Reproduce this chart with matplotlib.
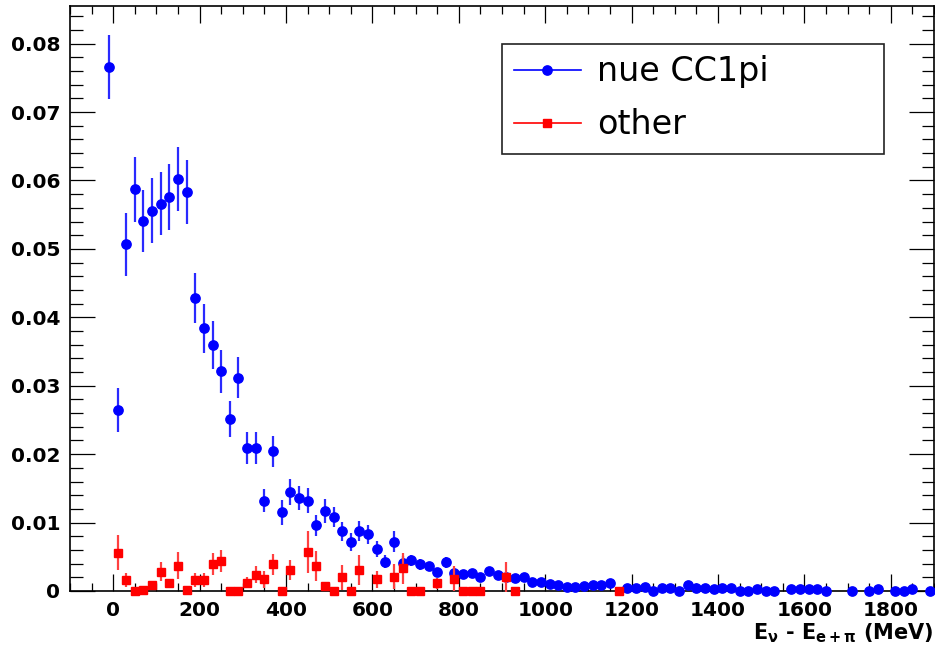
import matplotlib
matplotlib.use("Agg")
import matplotlib.pyplot as plt
from matplotlib.lines import Line2D
from matplotlib.ticker import MultipleLocator, FuncFormatter

plt.rcParams['font.family'] = ['DejaVu Sans']
plt.rcParams['mathtext.fontset'] = 'custom'
plt.rcParams['mathtext.rm'] = 'DejaVu Sans:bold'
plt.rcParams['mathtext.it'] = 'DejaVu Sans:bold'
plt.rcParams['mathtext.bf'] = 'DejaVu Sans:bold'

# ---- data: nue CC1pi (blue) ----
blue_x = [-10, 10, 30, 50, 70, 90, 110, 130, 150, 170,
          190, 210, 230, 250, 270, 290, 310, 330, 350, 370,
          390, 410, 430, 450, 470, 490, 510, 530, 550, 570,
          590, 610, 630, 650, 670, 690, 710, 730, 750, 770,
          790, 810, 830, 850, 870, 890, 910, 930, 950, 970,
          990, 1010, 1030, 1050, 1070, 1090, 1110, 1130, 1150, 1190,
          1210, 1230, 1250, 1270, 1290, 1310, 1330, 1350, 1370, 1390,
          1410, 1430, 1450, 1470, 1490, 1510, 1530, 1570, 1590, 1610,
          1630, 1650, 1710, 1750, 1770, 1810, 1830, 1850, 1890]
blue_y = [0.0766, 0.0265, 0.0507, 0.0587, 0.0541, 0.0556, 0.0566, 0.0576, 0.0602, 0.0583,
          0.0428, 0.0384, 0.0359, 0.0321, 0.0251, 0.0312, 0.0209, 0.0209, 0.0132, 0.0204,
          0.0115, 0.0144, 0.0136, 0.0132, 0.0096, 0.0117, 0.0108, 0.0087, 0.0072, 0.0088,
          0.0083, 0.0061, 0.0043, 0.0072, 0.0041, 0.0045, 0.0039, 0.0037, 0.0028, 0.0042,
          0.0027, 0.0025, 0.0027, 0.0020, 0.0029, 0.0024, 0.0021, 0.0019, 0.0020, 0.0013,
          0.0013, 0.0010, 0.0009, 0.0006, 0.0006, 0.0007, 0.0009, 0.0009, 0.0012, 0.0005,
          0.0004, 0.0006, 0.0, 0.0004, 0.0005, 0.0, 0.0009, 0.0005, 0.0005, 0.00025,
          0.0005, 0.0004, 0.0, 0.0, 0.00025, 0.0, 0.0, 0.00025, 0.00025, 0.00025,
          0.00025, 0.0, 0.0, 0.0, 0.00025, 0.0, 0.0, 0.00025, 0.0]
blue_err = [0.0047, 0.0032, 0.0046, 0.0048, 0.0045, 0.0047, 0.0046, 0.0048, 0.0047, 0.0047,
            0.0037, 0.0036, 0.0035, 0.0031, 0.0026, 0.0030, 0.0023, 0.0023, 0.0017, 0.0023,
            0.0018, 0.0019, 0.0017, 0.0018, 0.0015, 0.0017, 0.0015, 0.0014, 0.0013, 0.0015,
            0.0014, 0.0012, 0.0010, 0.0015, 0.0010, 0.0008, 0.0008, 0.0006, 0.0006, 0.0008,
            0.0005, 0.0005, 0.0005, 0.0004, 0.0005, 0.0004, 0.0004, 0.0004, 0.0004, 0.0003,
            0.0003, 0.0003, 0.0003, 0.0002, 0.0002, 0.0002, 0.0003, 0.0003, 0.0003, 0.0002,
            0.0002, 0.0002, 0.0, 0.0002, 0.0002, 0.0, 0.0003, 0.0002, 0.0002, 0.0001,
            0.0002, 0.0002, 0.0, 0.0, 0.0001, 0.0, 0.0, 0.0001, 0.0001, 0.0001,
            0.0001, 0.0, 0.0, 0.0, 0.0001, 0.0, 0.0, 0.0001, 0.0]

# ---- data: other (red) ----
red_x = [10, 30, 50, 70, 90, 110, 130, 150, 170, 190,
         210, 230, 250, 270, 290, 310, 330, 350, 370, 390,
         410, 450, 470, 490, 510, 530, 550, 570, 610, 650,
         670, 690, 710, 750, 790, 810, 830, 850, 910, 930,
         1170]
red_y = [0.0056, 0.0016, 0.0, 0.0001, 0.0009, 0.0028, 0.0012, 0.0037, 0.0002, 0.0016,
         0.0016, 0.0040, 0.0044, 0.0, 0.0, 0.0012, 0.0024, 0.0017, 0.0039, 0.0,
         0.0031, 0.0057, 0.0037, 0.0007, 0.0, 0.0020, 0.0, 0.0031, 0.0017, 0.0021,
         0.0033, 0.0, 0.0, 0.0011, 0.0018, 0.0, 0.0, 0.0, 0.0020, 0.0,
         0.0]
red_err = [0.0026, 0.0010, 0.0, 0.0, 0.0005, 0.0014, 0.0006, 0.0020, 0.0, 0.0010,
           0.0010, 0.0016, 0.0016, 0.0, 0.0, 0.0008, 0.0012, 0.0012, 0.0015, 0.0,
           0.0015, 0.0030, 0.0022, 0.0005, 0.0, 0.0018, 0.0, 0.0022, 0.0012, 0.0018,
           0.0023, 0.0, 0.0, 0.0008, 0.0018, 0.0, 0.0, 0.0, 0.0022, 0.0,
           0.0]

labels = ["nue CC1pi", "other"]
x_title = r"E$_{\nu}$ - E$_{e+\pi}$ (MeV)"

W, H = 935, 656
fig = plt.figure(figsize=(W / 100, H / 100), dpi=100)
ax = fig.add_axes([70 / W, 1 - 591 / H, (934 - 70) / W, (591 - 6) / H])

ax.set_xlim(-100, 1900)
ax.set_ylim(0, 0.0855)

eb1 = ax.errorbar(blue_x, blue_y, yerr=blue_err, fmt='o', color='blue', ms=6.7,
                  elinewidth=1.6, ecolor='#2a2aff', capsize=0, zorder=3)
eb2 = ax.errorbar(red_x, red_y, yerr=red_err, fmt='s', color='red', ms=6.3,
                  elinewidth=1.6, ecolor='#ff4040', capsize=0, zorder=4)
for eb in (eb1, eb2):
    eb[0].set_clip_on(False)
    for c in eb[2]:
        c.set_clip_on(False)

for s in ax.spines.values():
    s.set_linewidth(1.2)

ax.xaxis.set_major_locator(MultipleLocator(200))
ax.xaxis.set_minor_locator(MultipleLocator(50))
ax.yaxis.set_major_locator(MultipleLocator(0.01))
ax.yaxis.set_minor_locator(MultipleLocator(0.002))
ax.yaxis.set_major_formatter(FuncFormatter(lambda v, p: '0' if abs(v) < 1e-9 else f'{v:.2f}'))

ax.tick_params(axis='both', which='both', direction='in', top=True, right=True,
               width=0.9, labelsize=14.5)
ax.tick_params(axis='x', which='major', length=12.5, pad=7)
ax.tick_params(axis='x', which='minor', length=6)
ax.tick_params(axis='y', which='major', length=18, pad=7)
ax.tick_params(axis='y', which='minor', length=9)
for lab in ax.get_xticklabels() + ax.get_yticklabels():
    lab.set_fontweight('bold')

ax.set_xlabel(x_title, fontsize=15, fontweight='bold', loc='right', labelpad=1)

h1 = Line2D([], [], color='blue', marker='o', ms=6.7, lw=1.2)
h2 = Line2D([], [], color='red', marker='s', ms=6.3, lw=1.2)
leg = ax.legend([h1, h2], labels,
                bbox_to_anchor=(502 / W, 1 - 153 / H, 382 / W, 109 / H),
                bbox_transform=fig.transFigure, loc='center', mode='expand',
                fontsize=24, handlelength=2.0, handletextpad=0.5,
                borderpad=0.36, labelspacing=0.60, fancybox=False,
                framealpha=1, edgecolor='#222222', borderaxespad=0)
leg.get_frame().set_linewidth(1.2)

fig.savefig("out.png", dpi=100)
